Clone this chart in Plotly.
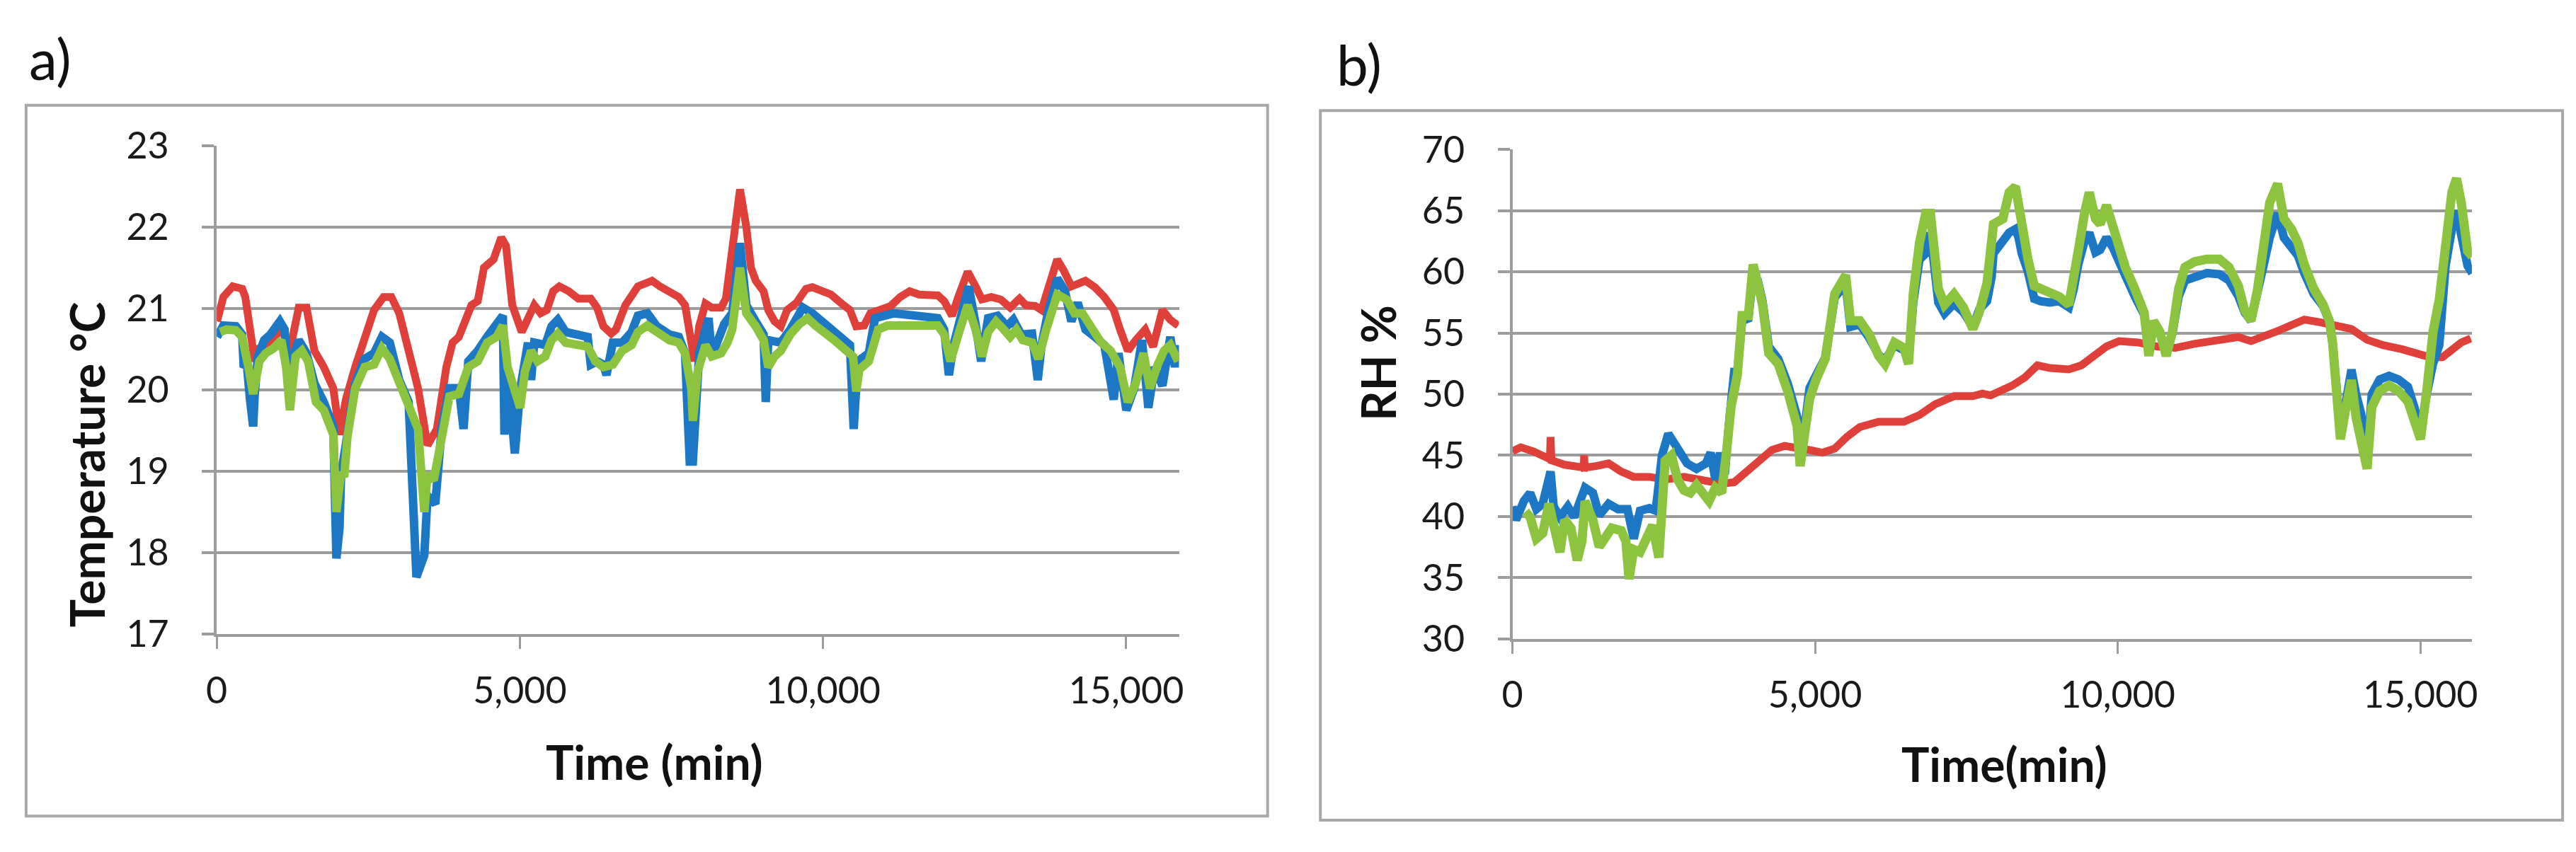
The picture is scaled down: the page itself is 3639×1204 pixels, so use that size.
import plotly.graph_objects as go

# ---------------- data: panel a) temperature ----------------
temp_red_t = [5,109,264,420,471,549,627,704,886,963,1093,1171,1352,1481,1611,1766,1922,2025,2129,2284,2440,2595,2751,2880,3010,3165,3320,3476,3631,3787,3890,3994,4097,4201,4305,4408,4564,4693,4771,4874,5030,5133,5237,5341,5444,5548,5651,5807,5962,6169,6273,6377,6506,6584,6739,6946,7179,7309,7464,7620,7724,7801,7879,7957,8060,8164,8319,8397,8501,8630,8734,8811,8889,9019,9096,9200,9303,9407,9562,9718,9821,9977,10132,10288,10443,10547,10676,10780,10909,11116,11272,11427,11583,11893,11997,12127,12230,12386,12515,12619,12774,12929,13085,13240,13344,13499,13603,13707,13862,13965,14095,14328,14483,14639,14794,14898,15027,15157,15312,15442,15597,15727,15856]
temp_red_v = [20.84,21.14,21.27,21.24,21.14,20.74,20.35,20.51,20.55,20.65,20.79,20.35,21.01,21.01,20.48,20.28,20.02,19.45,19.88,20.28,20.61,20.98,21.14,21.14,20.94,20.48,20.02,19.32,19.52,20.28,20.58,20.65,20.88,21.04,21.09,21.50,21.60,21.87,21.77,21.04,20.71,20.88,21.04,20.94,20.98,21.21,21.27,21.21,21.12,21.12,21.01,20.78,20.69,20.74,21.04,21.27,21.34,21.27,21.21,21.14,21.04,20.74,20.35,20.78,21.06,21.01,21.01,21.12,21.74,22.46,22.0,21.50,21.34,21.21,20.98,20.84,20.78,20.98,21.07,21.24,21.26,21.22,21.17,21.07,20.98,20.78,20.79,20.94,20.98,21.03,21.14,21.21,21.17,21.16,21.09,20.91,21.14,21.45,21.27,21.11,21.14,21.11,21.01,21.12,21.04,21.03,20.98,21.21,21.60,21.47,21.27,21.34,21.26,21.14,20.98,20.74,20.48,20.61,20.74,20.53,20.98,20.86,20.79]

temp_blue_t = [5,109,316,420,445,497,549,601,627,679,782,886,1041,1119,1171,1222,1352,1481,1611,1766,1922,1974,2025,2051,2155,2284,2440,2595,2725,2854,3010,3165,3294,3424,3476,3605,3709,3838,3994,4071,4149,4305,4460,4615,4719,4745,4797,4916,5004,5133,5185,5237,5418,5522,5625,5755,5910,6118,6169,6273,6377,6428,6532,6687,6843,6946,7102,7257,7464,7620,7724,7801,7853,7957,8112,8164,8371,8501,8630,8734,8889,9019,9055,9096,9303,9459,9666,9821,10029,10236,10443,10505,10573,10754,10857,11168,11479,11893,11997,12075,12152,12282,12401,12515,12608,12722,12878,13033,13137,13266,13447,13541,13603,13707,13862,13991,14095,14199,14328,14483,14639,14794,14872,15001,15131,15260,15364,15468,15597,15727,15804,15856]
temp_blue_v = [20.65,20.79,20.78,20.68,20.28,20.31,19.88,19.55,19.95,20.41,20.61,20.68,20.84,20.74,20.28,20.31,20.61,20.45,20.08,19.85,19.55,17.93,18.30,18.96,19.45,20.08,20.38,20.45,20.65,20.58,20.12,19.85,17.70,17.97,18.70,18.60,19.52,20.02,20.02,19.52,20.35,20.48,20.65,20.79,20.91,19.45,20.28,19.22,20.00,20.58,20.12,20.58,20.55,20.78,20.86,20.71,20.68,20.65,20.31,20.35,20.31,20.18,20.58,20.58,20.71,20.91,20.94,20.78,20.68,20.65,20.45,19.12,19.12,20.45,20.88,20.41,20.81,20.94,21.80,21.04,20.84,20.68,19.85,20.61,20.58,20.74,21.01,20.94,20.81,20.68,20.55,19.52,20.35,20.45,20.88,20.94,20.91,20.88,20.74,20.18,20.55,20.88,21.27,20.81,20.35,20.88,20.91,20.78,20.86,20.68,20.69,20.12,20.55,20.94,21.37,21.21,20.84,21.07,20.74,20.65,20.55,19.88,20.45,19.75,20.02,20.61,19.78,20.28,20.05,20.65,20.28,20.55]

temp_green_t = [57,161,316,420,523,601,704,808,938,1067,1145,1207,1300,1404,1507,1637,1766,1922,1974,2051,2103,2155,2284,2440,2595,2725,2854,3010,3165,3320,3424,3476,3579,3709,3838,3994,4149,4305,4460,4615,4719,4797,4900,5004,5082,5185,5289,5418,5522,5625,5755,5910,6118,6247,6377,6532,6687,6843,6946,7102,7257,7464,7620,7724,7827,7853,7931,8060,8164,8319,8423,8501,8630,8734,8889,9019,9096,9200,9303,9459,9614,9744,9873,10029,10184,10339,10495,10547,10598,10754,10909,11065,11479,11893,11997,12101,12256,12386,12515,12619,12722,12852,12981,13085,13188,13292,13447,13551,13681,13862,14017,14147,14276,14432,14587,14742,14898,15027,15157,15286,15390,15520,15623,15727,15856]
temp_green_v = [20.71,20.74,20.73,20.65,20.28,19.95,20.35,20.45,20.51,20.61,20.28,19.75,20.41,20.48,20.35,19.85,19.75,19.45,18.50,18.99,18.93,19.42,20.02,20.28,20.31,20.51,20.38,20.08,19.78,19.52,18.50,18.96,18.89,19.42,19.92,19.95,20.28,20.35,20.58,20.65,20.79,20.28,20.02,19.78,20.22,20.48,20.35,20.41,20.61,20.69,20.58,20.56,20.53,20.35,20.28,20.31,20.48,20.55,20.71,20.79,20.71,20.61,20.58,20.45,20.02,19.62,20.22,20.55,20.41,20.45,20.58,20.74,21.50,20.94,20.78,20.61,20.28,20.41,20.48,20.68,20.81,20.88,20.79,20.71,20.61,20.51,20.41,19.98,20.25,20.35,20.74,20.79,20.79,20.79,20.68,20.35,20.74,21.04,20.74,20.41,20.71,20.84,20.74,20.65,20.74,20.61,20.58,20.38,20.74,21.17,21.11,20.94,20.94,20.74,20.58,20.48,20.28,19.85,20.08,20.45,20.02,20.31,20.48,20.55,20.35]

# ---------------- data: panel b) relative humidity ----------------
rh_red_t = [0,137,344,500,620,630,645,863,1071,1180,1185,1195,1382,1589,1797,2004,2264,2523,2834,3145,3457,3664,3872,4079,4287,4494,4702,4909,5117,5324,5532,5739,6051,6466,6724,6983,7295,7606,7762,7900,8258,8465,8673,8880,9192,9399,9607,9814,10022,10333,10644,10955,11266,11578,11993,12200,12408,12615,12874,13082,13341,13601,13860,14119,14379,14690,14949,15156,15364,15520,15675,15831]
rh_red_v = [45.33,45.66,45.33,44.89,44.7,46.5,44.6,44.23,44.01,44.0,45.0,44.0,44.12,44.34,43.68,43.24,43.24,43.02,43.24,43.02,42.69,42.8,43.68,44.56,45.44,45.77,45.66,45.44,45.22,45.55,46.54,47.31,47.75,47.75,48.3,49.18,49.84,49.84,50.05,49.9,50.71,51.37,52.36,52.14,52.03,52.36,53.13,53.9,54.34,54.23,53.9,53.79,54.12,54.34,54.67,54.34,54.67,55.11,55.66,56.1,55.88,55.55,55.33,54.45,54.01,53.68,53.35,53.02,53.02,53.57,54.23,54.56]

rh_green_t = [215,293,396,500,604,708,785,863,967,1071,1149,1200,1330,1434,1538,1641,1797,1875,1927,2004,2108,2212,2316,2419,2471,2523,2627,2730,2834,2938,3042,3145,3249,3353,3457,3535,3612,3716,3794,3898,3976,4053,4131,4235,4390,4546,4702,4754,4832,4909,5013,5169,5324,5428,5506,5584,5739,5895,6051,6155,6311,6466,6544,6622,6724,6828,6906,7036,7139,7295,7451,7606,7710,7840,7917,7947,8102,8206,8310,8362,8414,8517,8621,8725,8880,9036,9192,9269,9347,9451,9529,9632,9710,9814,9918,10022,10125,10281,10437,10514,10592,10696,10800,10903,11007,11111,11266,11474,11681,11837,11993,12096,12200,12304,12408,12511,12641,12745,12874,12978,13082,13237,13393,13497,13549,13601,13678,13756,13860,13938,14016,14119,14197,14327,14482,14638,14794,14897,15001,15105,15209,15312,15416,15520,15597,15675,15779,15857]
rh_green_v = [40.4,39.95,38.19,38.63,41.04,39.06,37.09,39.72,39.06,36.43,37.97,41.26,39.72,37.53,38.19,39.06,38.85,37.97,34.89,37.31,37.09,38.41,39.28,36.65,39.72,44.56,45.0,43.02,42.14,41.93,42.58,41.93,41.26,42.36,41.93,45.22,48.96,51.59,56.43,56.43,60.6,59.07,57.31,53.35,52.47,50.27,47.42,44.12,46.54,49.6,51.15,52.91,58.19,59.07,59.73,56.0,56.0,54.89,53.13,52.47,54.23,53.79,52.47,58.19,62.36,64.78,64.78,58.63,57.31,58.19,57.09,55.33,56.65,59.07,62.14,63.9,64.34,66.5,66.98,65.44,63.02,61.04,58.85,58.63,58.19,57.97,57.31,59.07,61.7,64.78,66.5,64.34,63.9,65.44,63.68,61.7,60.38,58.63,56.65,53.13,55.99,55.11,53.13,55.11,58.63,60.38,60.82,61.04,61.04,60.38,58.85,56.87,55.99,58.41,62.14,65.66,67.2,64.34,63.46,62.36,60.6,58.63,57.31,55.99,54.23,50.71,46.32,48.52,51.15,48.08,46.32,43.9,48.96,50.27,50.71,50.27,49.4,47.86,46.32,50.27,55.11,57.75,62.58,66.5,67.64,65.66,61.7,61.26]

rh_blue_t = [0,59,189,293,396,500,630,682,785,915,1019,1200,1330,1434,1589,1745,1901,2004,2108,2264,2367,2471,2575,2730,2886,3042,3197,3275,3353,3431,3509,3587,3664,3716,3794,3898,3976,4053,4131,4235,4390,4546,4702,4754,4832,4909,5013,5169,5324,5428,5506,5584,5739,5895,6051,6155,6311,6466,6544,6622,6724,6828,6906,7036,7139,7295,7451,7606,7710,7840,7917,7947,8102,8206,8310,8362,8414,8517,8621,8725,8880,9036,9192,9269,9347,9451,9529,9632,9710,9814,9918,10022,10125,10281,10437,10514,10592,10696,10800,10903,11007,11111,11266,11474,11681,11837,11993,12096,12200,12304,12408,12511,12641,12745,12874,12978,13082,13237,13393,13497,13549,13601,13678,13756,13860,13938,14016,14119,14197,14327,14482,14638,14794,14897,15001,15105,15209,15312,15416,15520,15597,15675,15779,15857]
rh_blue_v = [40.82,39.72,41.26,41.93,40.6,41.04,43.68,40.82,39.95,40.82,39.95,42.36,41.93,40.1,41.04,40.6,40.6,38.19,40.47,40.68,40.47,45.0,46.76,45.44,44.34,43.9,44.34,45.22,43.02,45.22,43.46,48.08,51.81,51.8,56.0,56.2,59.8,59.3,57.6,53.9,52.9,50.9,48.2,46.0,47.5,50.5,51.6,53.0,57.9,58.5,59.0,55.5,55.7,54.6,53.2,52.8,54.0,53.6,52.9,57.5,61.0,61.5,63.2,57.5,56.6,57.4,56.7,55.5,56.9,57.6,59.6,61.5,62.5,63.2,63.5,62.8,61.5,60.0,57.8,57.6,57.5,57.6,57.1,58.5,60.6,62.5,63.2,61.6,61.8,62.8,62.0,60.6,59.7,58.0,56.5,53.6,55.6,55.0,53.4,55.0,58.0,59.3,59.6,59.9,59.8,59.3,58.0,56.7,56.0,58.0,60.5,62.8,64.8,62.8,61.8,61.3,59.9,58.2,57.2,55.9,54.2,51.0,47.0,49.0,52.0,50.0,48.5,45.0,50.0,51.2,51.5,51.2,50.6,49.0,47.0,50.0,52.5,54.0,60.5,63.5,65.0,63.0,60.5,59.9]

temp_ticks_y = [17, 18, 19, 20, 21, 22, 23]
rh_ticks_y = [30, 35, 40, 45, 50, 55, 60, 65, 70]
time_ticks = [0, 5000, 10000, 15000]

# ---------------- styling ----------------
W, H = 3639, 1204
RED, BLUE, GREEN = "#E0403A", "#1C78C4", "#8CC43F"
GRID = "#9c9c9c"
FONT = "Lato"
TXT = "#1a1a1a"

def px(x):
    return x / W

def py(y):
    return 1 - y / H

fig = go.Figure()

for t, v, c, w, ax in [
    (temp_red_t, temp_red_v, RED, 11, ("x", "y")),
    (temp_blue_t, temp_blue_v, BLUE, 12, ("x", "y")),
    (temp_green_t, temp_green_v, GREEN, 12, ("x", "y")),
    (rh_red_t, rh_red_v, RED, 11, ("x2", "y2")),
    (rh_blue_t, rh_blue_v, BLUE, 12, ("x2", "y2")),
    (rh_green_t, rh_green_v, GREEN, 13, ("x2", "y2")),
]:
    assert len(t) == len(v), (len(t), len(v))
    fig.add_trace(go.Scatter(x=t, y=v, mode="lines", xaxis=ax[0], yaxis=ax[1],
                             line=dict(color=c, width=w), showlegend=False,
                             hoverinfo="skip"))

xcommon = dict(showgrid=False, zeroline=False, showline=True, linecolor=GRID, linewidth=4,
               ticks="outside", ticklen=17, tickwidth=3, tickcolor=GRID,
               tickvals=time_ticks, tickformat=",d",
               tickfont=dict(family=FONT, size=52, color=TXT), ticklabelstandoff=14)
ycommon = dict(showgrid=True, gridcolor=GRID, gridwidth=4, zeroline=False,
               showline=True, linecolor=GRID, linewidth=4,
               ticks="outside", ticklen=17, tickwidth=4, tickcolor=GRID,
               tickfont=dict(family=FONT, size=52, color=TXT), ticklabelstandoff=36)

fig.update_layout(
    width=W, height=H, margin=dict(l=0, r=0, t=0, b=0),
    paper_bgcolor="white", plot_bgcolor="white",
    xaxis=dict(domain=[px(293), px(1661)], range=[0, 15870], anchor="y", **xcommon),
    yaxis=dict(domain=[py(910), py(182)], range=[17, 23], tickvals=temp_ticks_y, anchor="x", **ycommon),
    xaxis2=dict(domain=[px(2135), px(3499)], range=[0, 15850], anchor="y2", **xcommon),
    yaxis2=dict(domain=[py(917), py(188)], range=[30, 70], tickvals=rh_ticks_y, anchor="x2", **ycommon),
)

# panel frames
for x0, y0, x1, y1 in [(22, 122, 1787, 1181), (1862, 130, 3628, 1187)]:
    fig.add_shape(type="rect", xref="paper", yref="paper",
                  x0=px(x0), x1=px(x1), y0=py(y1), y1=py(y0),
                  line=dict(color="#a8a8a8", width=4), fillcolor="rgba(0,0,0,0)", layer="below")

def ann(text, x, y, size, angle=0):
    fig.add_annotation(text=text, x=px(x), y=py(y), xref="paper", yref="paper",
                       showarrow=False, xanchor="center", yanchor="middle", textangle=angle,
                       font=dict(family=FONT, size=size, color="#111111"))

ann("a)", 56, 52, 80)
ann("b)", 1917, 60, 80)
ann("<b>Temperature °C</b>", 108, 657, 66, -90)
ann("<b>RH %</b>", 1944, 506, 66, -90)
ann("<b>Time (min)</b>", 915, 1100, 66)
ann("<b>Time(min)</b>", 2834, 1103, 66)

fig.write_html("out.html", config={"displayModeBar": False},
               post_script="document.body.style.margin='0';document.body.style.overflow='hidden';")
